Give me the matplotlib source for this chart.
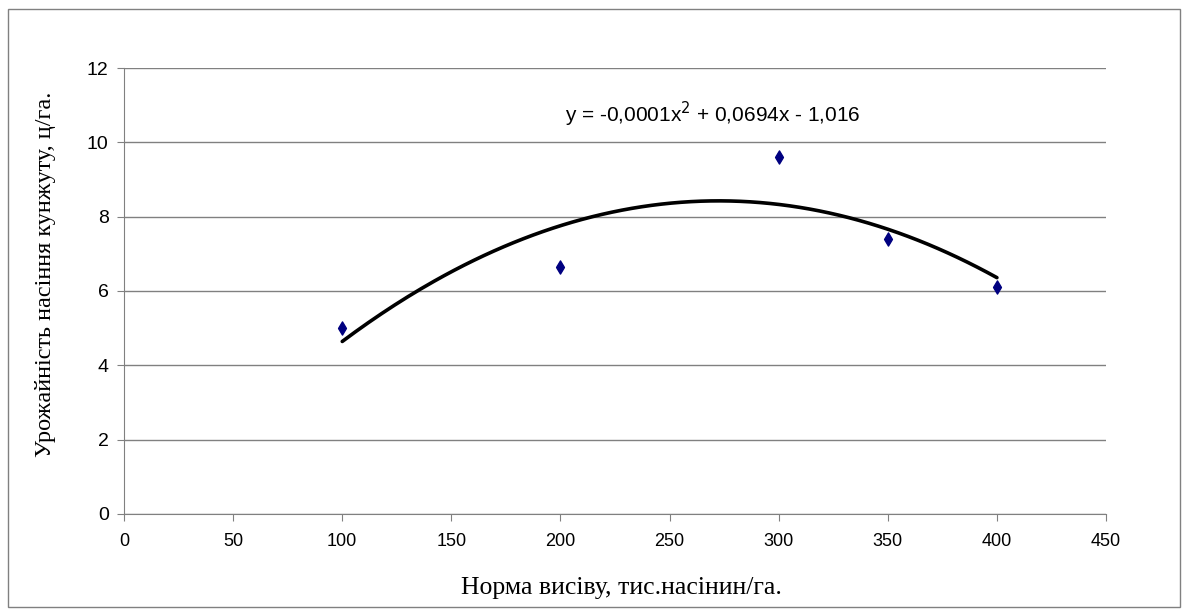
import numpy as np
import matplotlib
matplotlib.use("Agg")
import matplotlib.pyplot as plt
from matplotlib.patches import Rectangle

# seeding rate (thousand seeds/ha) vs sesame seed yield (c/ha)
rates = [100, 200, 300, 350, 400]
yields = [5.0, 6.65, 9.6, 7.4, 6.1]
xticks = list(range(0, 451, 50))
yticks = list(range(0, 13, 2))
equation = "y = -0,0001x$^{2}$ + 0,0694x - 1,016"

fig = plt.figure(figsize=(11.88, 6.16), dpi=100)
ax = fig.add_axes([0.1044, 0.1656, 0.8266, 0.724])

# outer chart border
fig.patches.append(Rectangle((0.007, 0.014), 0.986, 0.972, transform=fig.transFigure,
                             fill=False, edgecolor="#808080", linewidth=1.0))

# polynomial trend line (2nd order)
coef = np.polyfit(rates, yields, 2)
xs = np.linspace(min(rates), max(rates), 200)
ax.plot(xs, np.polyval(coef, xs), color="black", linewidth=2.6, solid_capstyle="round", zorder=3)

ax.scatter(rates, yields, marker="d", s=45, color="#000080", zorder=4)

ax.set_xlim(0, 450)
ax.set_ylim(0, 12)
ax.set_xticks(xticks)
ax.set_yticks(yticks)
ax.grid(axis="y", color="#808080", linewidth=1.0)
ax.set_axisbelow(True)
for s in ["top", "right"]:
    ax.spines[s].set_visible(False)
for s in ["left", "bottom"]:
    ax.spines[s].set_color("#808080")
ax.tick_params(colors="#808080", length=5, labelcolor="black")
ax.tick_params(axis="y", labelsize=14, pad=6)
ax.tick_params(axis="x", labelsize=13, pad=9)
for lbl in ax.get_xticklabels() + ax.get_yticklabels():
    lbl.set_family("Liberation Sans")

ax.set_xlabel("Норма висіву, тис.насінин/га.", family="Liberation Serif", fontsize=18.5)
ax.set_ylabel("Урожайність насіння кунжуту, ц/га.", family="Liberation Serif", fontsize=17.5)
ax.xaxis.set_label_coords(0.507, -0.166)
ax.yaxis.set_label_coords(-0.0804, 0.538)
ax.xaxis.label.set_va("center")
ax.yaxis.label.set_va("center")

ax.text(270, 10.76, equation, ha="center", va="center", fontsize=15, family="Liberation Sans")

fig.savefig("out.png", dpi=100)
